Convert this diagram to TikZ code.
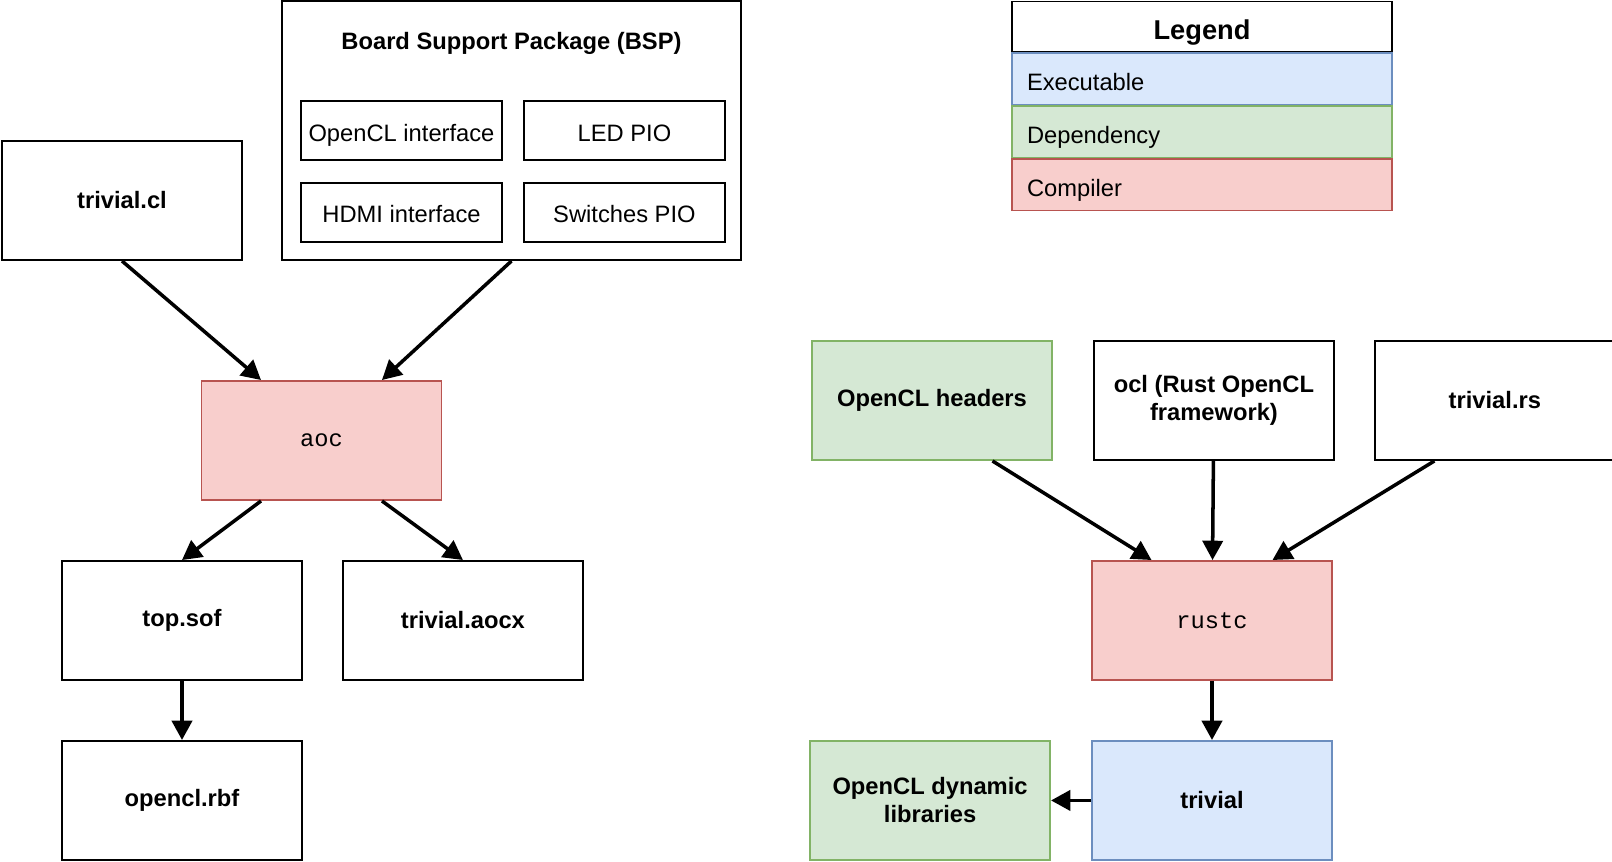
\documentclass[tikz,border=0pt]{standalone}
\usepackage{fontspec}
\setmainfont{Liberation Sans}
\setmonofont{Liberation Mono}
\usetikzlibrary{positioning}
\usetikzlibrary{arrows.meta}
\usetikzlibrary{calc}
\definecolor{exefill}{HTML}{DAE8FC}
\definecolor{exedraw}{HTML}{6C8EBF}
\definecolor{depfill}{HTML}{D5E8D4}
\definecolor{depdraw}{HTML}{82B366}
\definecolor{cmpfill}{HTML}{F8CECC}
\definecolor{cmpdraw}{HTML}{B85450}
\tikzset{
every node/.style={font=\fontsize{13.5}{16}\selectfont},
>={Triangle[length=11pt,width=11.5pt]}, % filled heads everywhere
my box/.style={draw,line width=1.1pt,minimum width=4.8cm,minimum height=2.38cm,align=center},
my small/.style={draw,line width=1.1pt,minimum width=4.02cm,minimum height=1.18cm,inner sep=1pt,text height=12pt,text depth=0pt},
bold/.style={font=\fontsize{13.5}{16}\selectfont\bfseries},
mono/.style={font=\fontsize{13.5}{16}\selectfont\ttfamily},
exe/.style={fill=exefill,draw=exedraw},
dep/.style={fill=depfill,draw=depdraw},
cmp/.style={fill=cmpfill,draw=cmpdraw},
legend row/.style={draw,line width=0.85pt,minimum height=1.03cm,text width=7cm,inner xsep=0.3cm,align=left,text height=13pt,text depth=0pt},
flow/.style={->,line width=2pt},
}
\begin{document}
\begin{tikzpicture}
\useasboundingbox (0,0) rectangle (32.24,-17.24);

% left: OpenCL kernel side
\node[my box,bold]      (cl)   at (2.44,-4.01)  {trivial.cl};
\node[my box,minimum width=9.18cm,minimum height=5.18cm] (bsp) at (10.23,-2.61) {};
\node[bold]             (bspt) at (10.23,-0.86) {Board Support Package (BSP)};
\node[my small]         (ifc)  at (8.03,-2.61)  {OpenCL interface};
\node[my small]         (led)  [right=0.4cm of ifc]  {LED PIO};
\node[my small]         (hdmi) [below=0.42cm of ifc] {HDMI interface};
\node[my small]         (sw)   [below=0.42cm of led] {Switches PIO};
\node[my box,cmp,mono]  (aoc)  at (6.43,-8.81)  {aoc};
\node[my box,bold]      (sof)  at (3.64,-12.41) {top.sof};
\node[my box,bold]      (aocx) [right=0.78cm of sof] {trivial.aocx};
\node[my box,bold]      (rbf)  [below=1.18cm of sof] {opencl.rbf};

% right: Rust host side
\node[my box,dep,bold]  (hdr)  at (18.64,-8.01) {OpenCL headers};
\node[my box,bold]      (ocl)  [right=0.8cm of hdr]  {ocl (Rust OpenCL\\framework)};
\node[my box,bold]      (rs)   [right=0.78cm of ocl] {trivial.rs};
\node[my box,cmp,mono]  (rustc) at (24.24,-12.41) {rustc};
\node[my box,exe,bold]  (triv) [below=1.18cm of rustc] {trivial};
\node[my box,dep,bold]  (dyn)  [left=0.8cm of triv]  {OpenCL dynamic\\libraries};

% legend
\node[legend row,line width=1.1pt,minimum height=1.0cm,align=center,text height=14.5pt,font=\fontsize{15.5}{18}\selectfont\bfseries] (lg) at (24.04,-0.53) {Legend};
\node[legend row,exe] (lgexe) [below=0pt of lg]    {Executable};
\node[legend row,dep] (lgdep) [below=0pt of lgexe] {Dependency};
\node[legend row,cmp] (lgcmp) [below=0pt of lgdep] {Compiler};

\draw[flow] (cl.south)  -- ($(aoc.north west)!0.25!(aoc.north east)$);
\draw[flow] (bsp.south) -- ($(aoc.north west)!0.75!(aoc.north east)$);
\draw[flow] ($(aoc.south west)!0.25!(aoc.south east)$) -- (sof.north);
\draw[flow] ($(aoc.south west)!0.75!(aoc.south east)$) -- (aocx.north);
\draw[flow] (sof) -- (rbf);

\draw[flow] ($(hdr.south west)!0.75!(hdr.south east)$) -- ($(rustc.north west)!0.25!(rustc.north east)$);
\draw[flow] (ocl) -- (rustc);
\draw[flow] ($(rs.south west)!0.25!(rs.south east)$) -- ($(rustc.north west)!0.75!(rustc.north east)$);
\draw[flow] (rustc) -- (triv);
\draw[flow] (triv) -- (dyn);
\end{tikzpicture}
\end{document}
